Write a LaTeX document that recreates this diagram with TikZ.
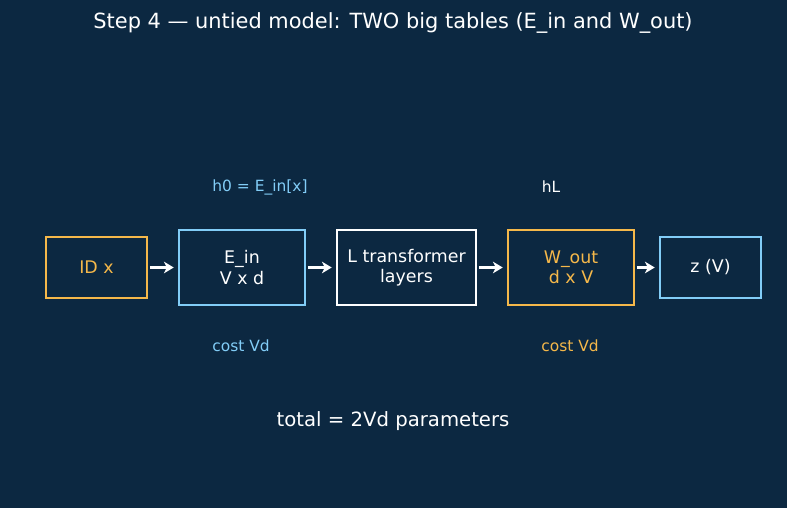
\documentclass[tikz,border=0pt]{standalone}
\usepackage{fontspec}
\setmainfont{DejaVu Sans}
\usetikzlibrary{arrows.meta}
\definecolor{bgnavy}{HTML}{0C2841}
\definecolor{idorange}{HTML}{F5B84A}
\definecolor{tblblue}{HTML}{82CDF7}
\begin{document}
\begin{tikzpicture}[
    x=0.02cm, y=0.02cm,
    box/.style={rectangle, draw=white, line width=1.6pt, fill=bgnavy, text=white, align=center, inner sep=0pt, font=\fontsize{9.9}{11.4}\selectfont},
    small/.style={minimum width=2.02cm, minimum height=1.22cm},
    wide/.style={minimum width=2.52cm, minimum height=1.5cm},
    lbl/.style={font=\fontsize{8.8}{10}\selectfont},
    flow/.style={-{Stealth[length=5.5pt,width=6.5pt,inset=1.5pt]}, draw=white, line width=1.6pt, shorten <=0.8pt, shorten >=2.2pt}
    ]
    % picture area, y measured from the bottom
    \fill [bgnavy] (0,0) rectangle (787,508);
    \useasboundingbox (0,0) rectangle (787,508);

    \node [text=white, font=\fontsize{11.9}{14}\selectfont] (title) at (393,485) {Step 4 — untied model: TWO big tables (E\_in and W\_out)};

    \node [box, small, draw=idorange, text=idorange] (id) at (96.5,240.5) {ID x};
    \node [box, wide, draw=tblblue] (ein) at (242,240.5) {E\_in\\V x d};
    \node [box, wide, minimum width=2.78cm] (layers) at (406.5,240.5) {L transformer\\layers};
    \node [box, wide, draw=idorange, text=idorange] (wout) at (571,240.5) {W\_out\\d x V};
    \node [box, small, draw=tblblue] (z) at (710.5,240.5) {z (V)};

    \draw [flow] (id) -- (ein);
    \draw [flow] (ein) -- (layers);
    \draw [flow] (layers) -- (wout);
    \draw [flow] (wout) -- (z);

    \node [lbl, text=tblblue] (h0) at (260,321) {h0 = E\_in[x]};
    \node [lbl, text=white] (hL) at (551,321) {hL};
    \node [lbl, text=tblblue] (cin) at (241,162) {cost Vd};
    \node [lbl, text=idorange] (cout) at (570,162) {cost Vd};

    \node [text=white, font=\fontsize{11.2}{13}\selectfont] (total) at (393,87) {total = 2Vd parameters};
\end{tikzpicture}
\end{document}
